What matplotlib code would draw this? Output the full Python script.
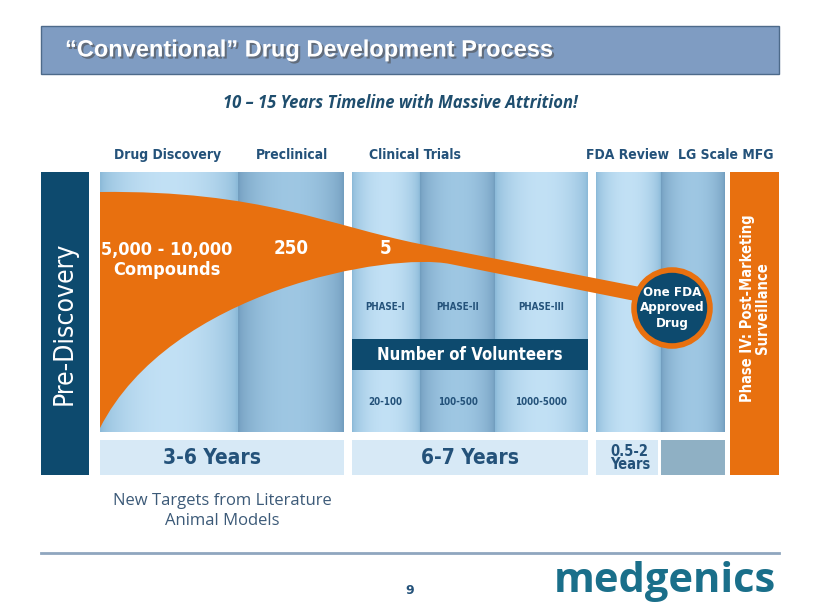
import numpy as np
import matplotlib
matplotlib.use("Agg")
import matplotlib.pyplot as plt
from matplotlib.path import Path
from matplotlib.patches import PathPatch, Rectangle, Circle
import matplotlib.patheffects as pe

NARROW = ["DejaVu Sans"]
ST = "condensed"
DARK = "#0d4a6e"
ORANGE = "#e8700f"
HEAD = "#24527a"

headers = ["Drug Discovery", "Preclinical", "Clinical Trials", "FDA Review", "LG Scale MFG"]
header_x = [168, 292, 415, 628, 726]
phases = ["PHASE-I", "PHASE-II", "PHASE-III"]
volunteers = ["20-100", "100-500", "1000-5000"]
phase_x = [385, 458, 541]
durations = ["3-6 Years", "6-7 Years", "0.5-2\nYears"]
counts = ["5,000 - 10,000\nCompounds", "250", "5"]

# columns: (x0, x1, shade)
columns = [(100, 238, "l"), (238, 344, "d"),
           (352, 420, "l"), (420, 495, "d"), (495, 588, "l"),
           (596, 661, "l"), (661, 725, "d")]

fig = plt.figure(figsize=(8.2, 6.15), dpi=100)
ax = fig.add_axes([0, 0, 1, 1])
ax.axis("off")


def label(x, y, s, size, **kw):
    kw.setdefault("color", HEAD)
    kw.setdefault("fontweight", "bold")
    kw.setdefault("ha", "center")
    kw.setdefault("va", "center")
    ax.text(x, y, s, fontsize=size, family=NARROW, fontstretch=ST, **kw)


# title bar
ax.add_patch(Rectangle((41, 26), 738, 48, facecolor="#7f9cc2", edgecolor="#4d6a8a", lw=1))
ax.text(65, 50, "\u201cConventional\u201d Drug Development Process", color="white",
        fontsize=17, fontweight="bold", va="center", ha="left",
        family=["Liberation Sans", "DejaVu Sans"],
        path_effects=[pe.withSimplePatchShadow(offset=(1.5, -1.5), alpha=0.6)])
ax.text(400, 103, "10 \u2013 15 Years Timeline with Massive Attrition!", color="#1f4e6e",
        fontsize=12, fontweight="bold", style="italic", ha="center", va="center",
        family=["Open Sans", "DejaVu Sans"])

for h, x in zip(headers, header_x):
    label(x, 155, h, 10)

# gradient columns
for x0, x1, shade in columns:
    t = np.linspace(0, 1, 64)
    prof = np.sin(np.pi * t) ** 0.6
    if shade == "l":
        c0, c1 = np.array([0.55, 0.73, 0.85]), np.array([0.76, 0.88, 0.96])
    else:
        c0, c1 = np.array([0.45, 0.62, 0.75]), np.array([0.62, 0.78, 0.89])
    img = c0[None, :] + (c1 - c0)[None, :] * prof[:, None]
    ax.imshow(img[None, :, :], extent=(x0, x1, 432, 172), aspect="auto", zorder=1,
              interpolation="bilinear")
ax.set_xlim(0, 820)
ax.set_ylim(615, 0)

# volunteers band
ax.add_patch(Rectangle((352, 339), 236, 31, facecolor=DARK, zorder=2))
label(470, 355, "Number of Volunteers", 12, color="white", zorder=3)
for p, v, x in zip(phases, volunteers, phase_x):
    label(x, 307, p, 7, zorder=3)
    label(x, 402, v, 7, zorder=3)

# bottom duration boxes
ax.add_patch(Rectangle((100, 440), 244, 35, facecolor="#d7e9f6", zorder=1))
ax.add_patch(Rectangle((352, 440), 236, 35, facecolor="#d7e9f6", zorder=1))
ax.add_patch(Rectangle((596, 440), 62, 35, facecolor="#d7e9f6", zorder=1))
ax.add_patch(Rectangle((661, 440), 64, 35, facecolor="#8fb0c4", zorder=1))
label(212, 458, durations[0], 15)
label(470, 458, durations[1], 15)
label(610, 458, durations[2], 10.5, ha="left", linespacing=0.9)

# side bars
ax.add_patch(Rectangle((41, 172), 48, 303, facecolor=DARK))
label(65, 323, "Pre-Discovery", 19, color="white", rotation=90, fontweight="normal")
ax.add_patch(Rectangle((730, 172), 49, 303, facecolor=ORANGE))
label(755, 308, "Phase IV: Post-Marketing\nSurveillance", 10.5, color="white",
      rotation=90, linespacing=1.0)

# attrition funnel
verts = [(100, 192), (260, 190), (330, 226), (420, 244),
         (640, 287), (640, 302), (450, 264),
         (390, 252), (170, 290), (100, 428), (100, 192)]
codes = [Path.MOVETO, Path.CURVE4, Path.CURVE4, Path.CURVE4,
         Path.LINETO, Path.LINETO, Path.LINETO,
         Path.CURVE4, Path.CURVE4, Path.CURVE4, Path.CLOSEPOLY]
ax.add_patch(PathPatch(Path(verts, codes), facecolor=ORANGE, edgecolor="none", zorder=4))
ax.add_patch(Circle((672, 308), 38, facecolor=DARK, edgecolor=ORANGE, lw=4, zorder=5))
label(672, 308, "One FDA\nApproved\nDrug", 9.5, color="white", zorder=6)

label(167, 260, counts[0], 13, color="white", zorder=6, linespacing=1.1)
label(291, 248, counts[1], 13.5, color="white", zorder=6)
label(386, 248, counts[2], 13.5, color="white", zorder=6)

ax.text(222, 511, "New Targets from Literature\nAnimal Models", color="#3c5a78",
        fontsize=12, ha="center", va="center", linespacing=1.3,
        family=["Open Sans", "DejaVu Sans"])

ax.plot([41, 779], [553, 553], color="#8fa6bf", lw=2)
ax.text(410, 591, "9", color=HEAD, fontsize=9, fontweight="bold", ha="center", va="center")
ax.text(665, 582, "medgenics", color="#1a6f8a", fontsize=30, fontweight="bold",
        ha="center", va="center", family=["Open Sans", "DejaVu Sans"])

fig.savefig("out.png", dpi=100)
